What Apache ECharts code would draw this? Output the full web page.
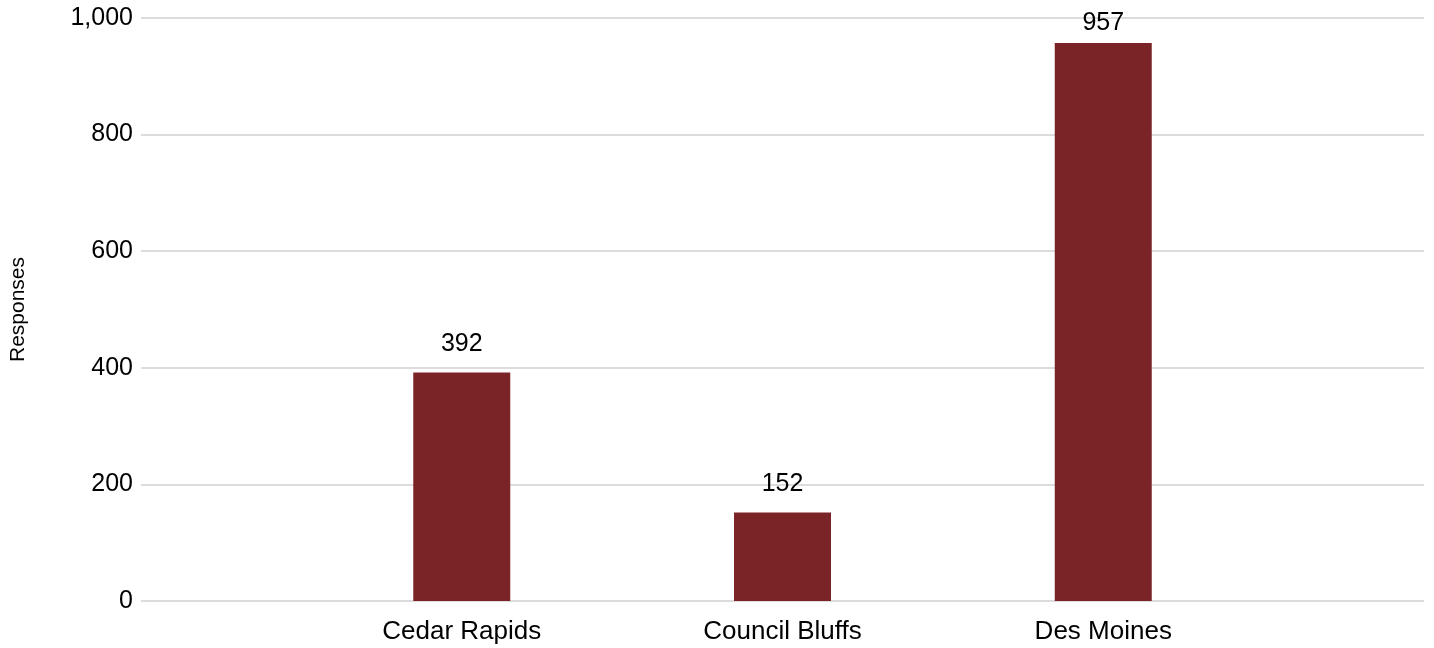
<!DOCTYPE html>
<html>
<head>
<meta charset="utf-8">
<script src="https://cdn.jsdelivr.net/npm/echarts@6/dist/echarts.min.js"></script>
<style>
  html, body { margin: 0; padding: 0; background: #fff; }
  #chart { width: 1434px; height: 648px; }
</style>
</head>
<body>
<div id="chart"></div>
<script>
// empty slots at both ends keep the bars where the original puts them
var categories = ['', 'Cedar Rapids', 'Council Bluffs', 'Des Moines', ''];
var responses = [null, 392, 152, 957, null];
var yTicks = [0, 200, 400, 600, 800, 1000];

var font = '"Liberation Sans", Arial, sans-serif';
var myChart = echarts.init(document.getElementById('chart'));

// labels near the top of the plot are pulled closer to the bar
var barData = responses.map(function (v) {
  if (v !== null && v > 900) return { value: v, label: { distance: 7 } };
  return v;
});

var option = {
  animation: false,
  grid: { left: 140, right: 10, top: 18, bottom: 47, containLabel: false },
  xAxis: {
    type: 'category',
    data: categories,
    boundaryGap: false,
    axisLine: { show: false },
    axisTick: { show: false },
    axisLabel: {
      color: '#000', fontSize: 26, margin: 18,
      fontFamily: font,
      interval: 0
    }
  },
  yAxis: {
    type: 'value',
    min: yTicks[0],
    max: yTicks[yTicks.length - 1],
    interval: 200,
    name: 'Responses',
    nameLocation: 'middle',
    nameRotate: 90,
    nameGap: 112,
    nameTextStyle: { color: '#000', fontSize: 21, fontFamily: font },
    axisLine: { show: false },
    axisTick: { show: false },
    splitLine: { lineStyle: { color: '#dcdcdc', width: 2 } },
    axisLabel: {
      color: '#000', fontSize: 25, margin: 8,
      fontFamily: font,
      formatter: function (v) { return v.toLocaleString('en-US'); }
    }
  },
  series: [{
    type: 'bar',
    data: barData,
    barWidth: 97,
    itemStyle: { color: '#7b2428' },
    label: {
      show: true,
      position: 'top',
      distance: 16,
      color: '#000',
      fontSize: 25,
      fontFamily: font
    }
  }]
};

myChart.setOption(option);
</script>
</body>
</html>
